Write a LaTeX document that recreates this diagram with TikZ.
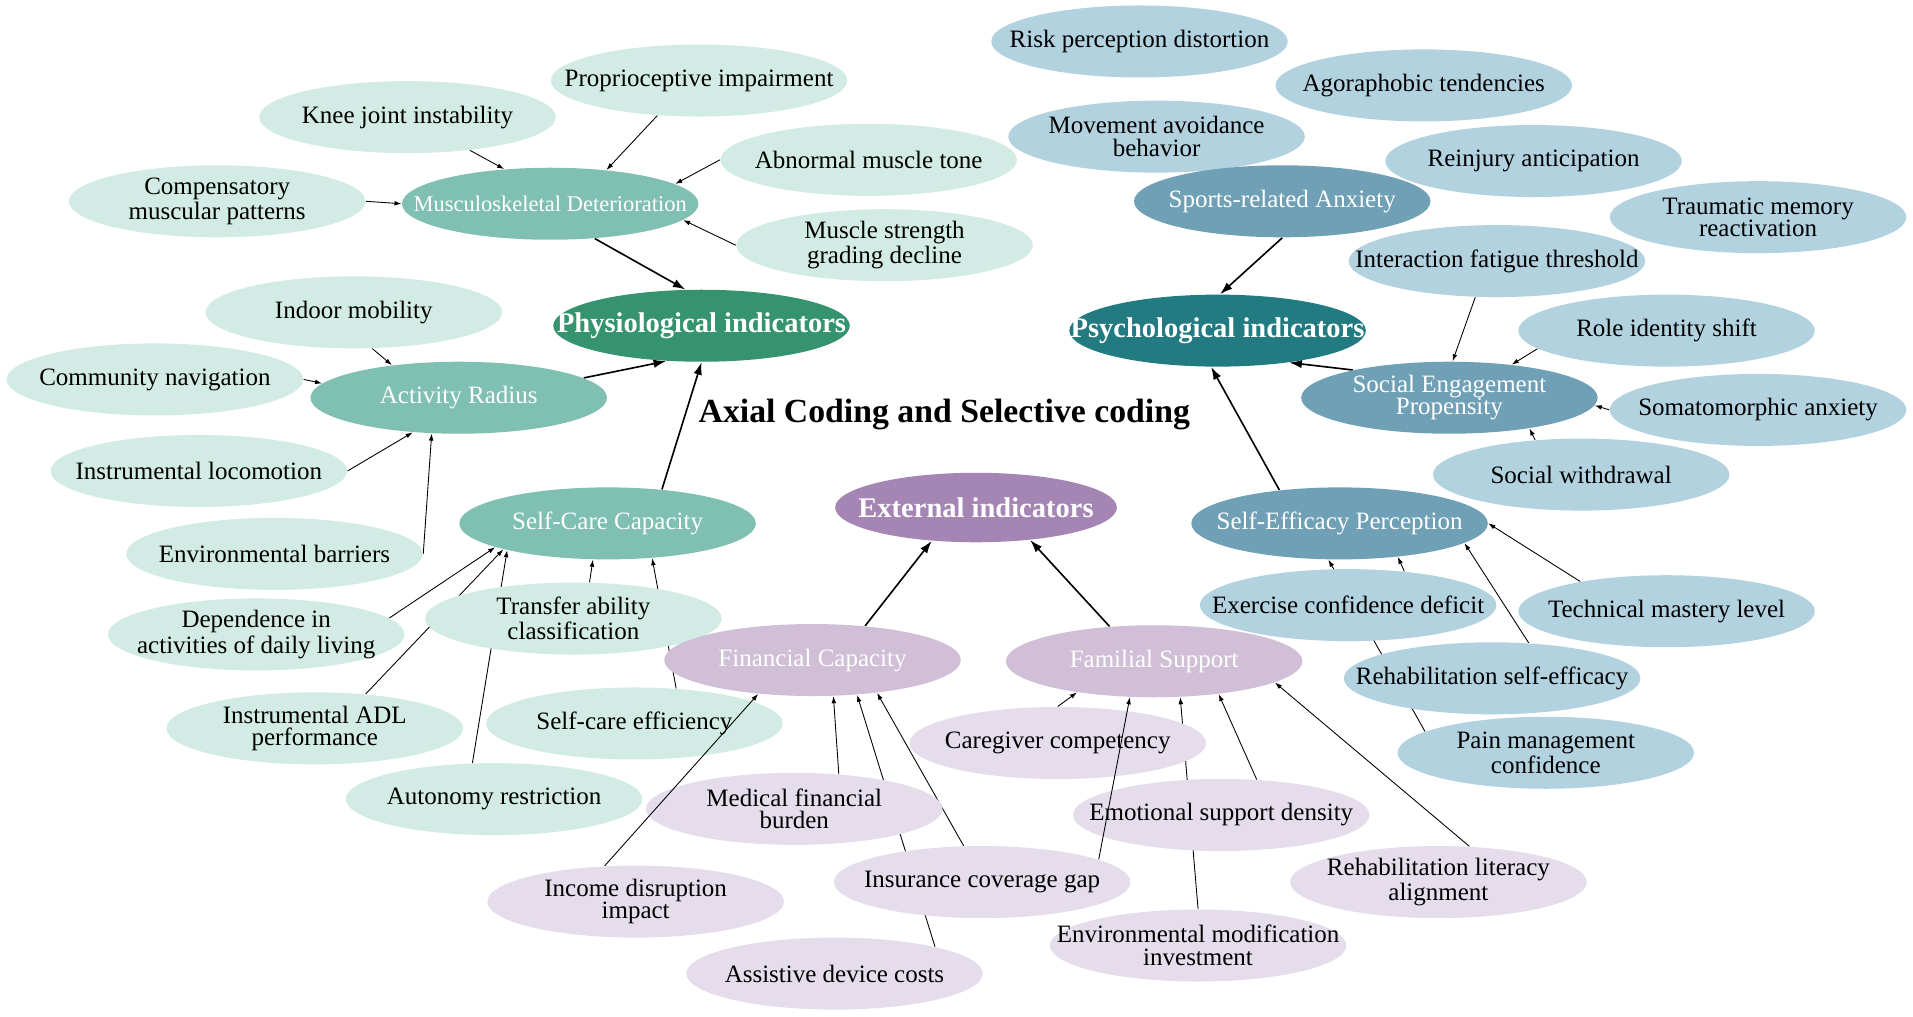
\documentclass[tikz,border=0pt]{standalone}
\usepackage{fontspec}
\setmainfont{Liberation Serif}
\usetikzlibrary{shapes.geometric, arrows.meta}

\definecolor{physleaf}{HTML}{D2EBE4}
\definecolor{physcat}{HTML}{7FC0B2}
\definecolor{physmain}{HTML}{35946F}
\definecolor{extleaf}{HTML}{E6DDEC}
\definecolor{extcat}{HTML}{D0BFD6}
\definecolor{extmain}{HTML}{A585B3}
\definecolor{psyleaf}{HTML}{B2D2E0}
\definecolor{psycat}{HTML}{6FA0B5}
\definecolor{psymain}{HTML}{227B80}

\pgfdeclarelayer{bg}
\pgfsetlayers{bg,main}

\begin{document}
\begin{tikzpicture}[x=0.488pt, y=-0.488pt,
    blob/.style = {ellipse, minimum width=118.6pt, minimum height=28.8pt, inner xsep=-30pt, inner ysep=0pt, align=center, font=\fontsize{10}{9}\selectfont},
    leaf/.style = {blob, fill=#1},
    cat/.style = {blob, fill=#1, text=white},
    hub/.style = {blob, fill=#1, text=white, font=\bfseries\fontsize{11.4}{12}\selectfont},
    arrow/.style = {draw, -{Latex[length=2.8pt,width=1.9pt]}, line width=0.35pt},
    bigarrow/.style = {draw, -{Latex[length=5pt,width=3.4pt]}, line width=0.65pt}
]
    \useasboundingbox (0,0) rectangle (1568,833);
    \begin{pgfonlayer}{bg}
    \fill[white] (0,0) rectangle (1568,833);
    \end{pgfonlayer}

    % physiological
    \node[leaf=physleaf] (prop) at (573, 66) {Proprioceptive impairment};
    \node[leaf=physleaf] (knee) at (334, 96) {Knee joint instability};
    \node[leaf=physleaf] (abn) at (712, 131) {Abnormal muscle tone};
    \node[leaf=physleaf] (comp) at (178, 165) {Compensatory\\muscular patterns};
    \node[cat=physcat, font=\fontsize{9}{8}\selectfont] (musc) at (451, 167) {Musculoskeletal Deterioration};
    \node[leaf=physleaf] (strength) at (725, 201) {Muscle strength\\grading decline};
    \node[hub=physmain] (phys) at (575, 267) {Physiological indicators};
    \node[leaf=physleaf] (indoor) at (290, 256) {Indoor mobility};
    \node[leaf=physleaf] (commun) at (127, 311) {Community navigation};
    \node[cat=physcat] (act) at (376, 326) {Activity Radius};
    \node[leaf=physleaf] (loco) at (163, 386) {Instrumental locomotion};
    \node[cat=physcat] (selfcare) at (498, 429) {Self-Care Capacity};
    \node[leaf=physleaf] (envbar) at (225, 454) {Environmental barriers};
    \node[leaf=physleaf] (depend) at (210, 520) {Dependence in\\activities of daily living};
    \node[leaf=physleaf] (transfer) at (470, 507) {Transfer ability\\classification};
    \node[leaf=physleaf] (iadl) at (258, 597) {Instrumental ADL\\performance};
    \node[leaf=physleaf] (efficiency) at (520, 593) {Self-care efficiency};
    \node[leaf=physleaf] (autonomy) at (405, 655) {Autonomy restriction};

    \node[font=\bfseries\fontsize{13.5}{15}\selectfont] (title) at (774, 340) {Axial Coding and Selective coding};

    % external
    \node[hub=extmain, minimum width=112.7pt, minimum height=27.8pt] (ext) at (800, 416) {External indicators};
    \node[cat=extcat] (fin) at (666, 541) {Financial Capacity};
    \node[cat=extcat] (fam) at (946, 542) {Familial Support};
    \node[leaf=extleaf] (caregiver) at (867, 609) {Caregiver competency};
    \node[leaf=extleaf] (medical) at (651, 663) {Medical financial\\burden};
    \node[leaf=extleaf] (emotional) at (1001, 668) {Emotional support density};
    \node[leaf=extleaf] (income) at (521, 739) {Income disruption\\impact};
    \node[leaf=extleaf] (insurance) at (805, 723) {Insurance coverage gap};
    \node[leaf=extleaf] (literacy) at (1179, 723) {Rehabilitation literacy\\alignment};
    \node[leaf=extleaf] (envmod) at (982, 775) {Environmental modification\\investment};
    \node[leaf=extleaf] (assistive) at (684, 798) {Assistive device costs};

    % psychological
    \node[leaf=psyleaf] (risk) at (934, 34) {Risk perception distortion};
    \node[leaf=psyleaf] (agora) at (1167, 70) {Agoraphobic tendencies};
    \node[leaf=psyleaf] (movement) at (948, 112) {Movement avoidance\\behavior};
    \node[leaf=psyleaf] (reinjury) at (1257, 132) {Reinjury anticipation};
    \node[cat=psycat] (sports) at (1051, 165) {Sports-related Anxiety};
    \node[leaf=psyleaf] (traumatic) at (1441, 178) {Traumatic memory\\reactivation};
    \node[leaf=psyleaf] (interaction) at (1227, 214) {Interaction fatigue threshold};
    \node[leaf=psyleaf] (role) at (1366, 271) {Role identity shift};
    \node[hub=psymain] (psych) at (998, 271) {Psychological indicators};
    \node[cat=psycat] (social) at (1188, 326) {Social Engagement\\Propensity};
    \node[leaf=psyleaf] (somato) at (1441, 336) {Somatomorphic anxiety};
    \node[leaf=psyleaf] (withdrawal) at (1296, 389) {Social withdrawal};
    \node[cat=psycat] (selfeff) at (1098, 429) {Self-Efficacy Perception};
    \node[leaf=psyleaf] (exercise) at (1105, 496) {Exercise confidence deficit};
    \node[leaf=psyleaf] (technical) at (1366, 501) {Technical mastery level};
    \node[leaf=psyleaf] (rehabse) at (1223, 556) {Rehabilitation self-efficacy};
    \node[leaf=psyleaf] (pain) at (1267, 617) {Pain management\\confidence};

    \begin{pgfonlayer}{bg}
    \path[arrow] (knee.-28) -- (musc.143);
    \path[arrow] (prop.220) -- (musc.31);
    \path[arrow] (abn.180) -- (musc.9);
    \path[arrow] (comp.0) -- (musc.180);
    \path[arrow] (strength.180) -- (musc.-7);
    \path[bigarrow] (musc.-38) -- (phys.114);
    \path[arrow] (indoor.-63) -- (act.154);
    \path[arrow] (commun.0) -- (act.174);
    \path[arrow] (loco.0) -- (act.-143);
    \path[arrow] (envbar.0) -- (act.-127);
    \path[bigarrow] (act.9) -- (phys.-135);
    \path[bigarrow] (selfcare.32) -- (phys.-90);
    \path[arrow] (depend.7) -- (selfcare.-168);
    \path[arrow] (iadl.34) -- (selfcare.-166);
    \path[arrow] (autonomy.121) -- (selfcare.-165);
    \path[arrow] (transfer.66) -- (selfcare.-112);
    \path[arrow] (efficiency.40) -- (selfcare.-38);

    \path[bigarrow] (fin.33) -- (ext.-143);
    \path[bigarrow] (fam.142) -- (ext.-31);
    \path[arrow] (medical.38) -- (fin.-60);
    \path[arrow] (assistive.15) -- (fin.-38);
    \path[arrow] (insurance.117) -- (fin.-27);
    \path[arrow] (caregiver.90) -- (fam.-158);
    \path[arrow] (envmod.90) -- (fam.-54);
    \path[arrow] (emotional.45) -- (fam.-27);
    \path[arrow] (literacy.49) -- (fam.-10);

    \path[bigarrow] (sports.-90) -- (psych.86);
    \path[bigarrow] (social.164) -- (psych.-24);
    \path[bigarrow] (selfeff.151) -- (psych.-100);
    \path[arrow] (interaction.-121) -- (social.85);
    \path[arrow] (role.-172) -- (social.28);
    \path[arrow] (somato.180) -- (social.-3);
    \path[arrow] (withdrawal.143) -- (social.-21);
    \path[arrow] (exercise.31) -- (selfeff.-30);
    \path[arrow] (pain.170) -- (selfeff.-107);
    \path[arrow] (rehabse.44) -- (selfeff.-9);
    \path[arrow] (technical.161) -- (selfeff.0);
    \end{pgfonlayer}

    \path[arrow] (income.131) -- (fin.-148);
    \path[arrow] (insurance.11) -- (fam.-124);
\end{tikzpicture}
\end{document}
